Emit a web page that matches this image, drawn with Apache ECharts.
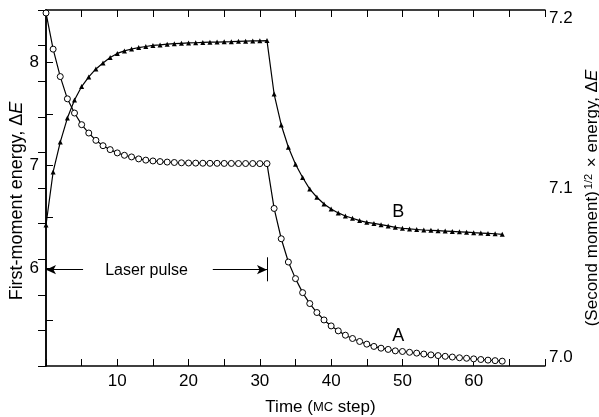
<!DOCTYPE html>
<html>
<head>
<meta charset="utf-8">
<script src="https://cdn.jsdelivr.net/npm/echarts@6/dist/echarts.min.js"></script>
<style>html,body{margin:0;padding:0;background:#fff;}#c{width:599px;height:417px;}</style>
</head>
<body>
<div id="c"></div>
<script>
const timeSteps = [0,1,2,3,4,5,6,7,8,9,10,11,12,13,14,15,16,17,18,19,20,21,22,23,24,25,26,27,28,29,30,31,32,33,34,35,36,37,38,39,40,41,42,43,44,45,46,47,48,49,50,51,52,53,54,55,56,57,58,59,60,61,62,63,64];
// Curve A: first-moment energy (left axis)
const seriesA = [8.481,8.130,7.864,7.648,7.510,7.397,7.316,7.245,7.193,7.155,7.123,7.100,7.084,7.065,7.053,7.045,7.039,7.034,7.030,7.027,7.025,7.024,7.023,7.022,7.022,7.021,7.021,7.020,7.020,7.020,7.019,7.019,
  6.584,6.290,6.064,5.903,5.767,5.661,5.574,5.502,5.444,5.396,5.354,5.322,5.293,5.267,5.245,5.228,5.216,5.202,5.196,5.188,5.180,5.171,5.163,5.156,5.149,5.142,5.135,5.130,5.124,5.118,5.112,5.107,5.102];
// Curve B: (second moment)^1/2 x energy (right axis)
const seriesB = [7.0792,7.1090,7.1258,7.1393,7.1494,7.1570,7.1624,7.1669,7.1702,7.1733,7.1756,7.1770,7.1781,7.1789,7.1795,7.1801,7.1804,7.1808,7.1811,7.1813,7.1815,7.1816,7.1818,7.1819,7.1820,7.1821,7.1822,7.1824,7.1825,7.1826,7.1827,7.1828,
  7.1528,7.1354,7.1229,7.1133,7.1059,7.0994,7.0948,7.0910,7.0882,7.0860,7.0843,7.0830,7.0817,7.0807,7.0801,7.0794,7.0787,7.0779,7.0774,7.0770,7.0767,7.0764,7.0762,7.0760,7.0758,7.0756,7.0754,7.0752,7.0749,7.0747,7.0745,7.0743,7.0740];
const xLabels = [10,20,30,40,50,60];
const leftTicks = [5.5,6,6.5,7,7.5,8];
const leftLabels = [6,7,8];
const rightTicks = [7.00,7.02,7.04,7.06,7.08,7.10,7.12,7.14,7.16,7.18,7.20];
const rightLabels = [7.0,7.1,7.2];
// Laser pulse annotation (time steps / left-axis energy)
const pulseStart = 0, pulseEnd = 31, pulseLevel = 5.99;
const pulseArrowLeftEnd = 5.2, pulseArrowRightStart = 23.4, pulseBarTop = 6.11, pulseBarBottom = 5.877;
const pulseTextPos = [14.1, 5.985];
const labelAPos = [49.4, 5.344];
const labelBPos = [49.4, 7.0865];

const FONT = 'Liberation Sans, Arial, sans-serif';
const dataA = timeSteps.map((t, i) => [t, seriesA[i]]);
const dataB = timeSteps.map((t, i) => [t, seriesB[i]]);

const axisLineStyle = { color: '#000', width: 1.5 };
const chart = echarts.init(document.getElementById('c'), null, { renderer: 'canvas' });
chart.setOption({
  animation: false,
  backgroundColor: '#fff',
  grid: { left: 46, right: 54, top: 10, bottom: 51, containLabel: false, outerBoundsMode: 'none' },
  xAxis: [{
    type: 'value', min: 0, max: 70, interval: 5, position: 'bottom',
    name: 'Time ({sc|MC} step)', nameLocation: 'middle', nameGap: 33,
    nameTextStyle: { fontFamily: FONT, fontSize: 17, color: '#000', padding: [0, 0, 0, 50],
      rich: { sc: { fontFamily: FONT, fontSize: 13, color: '#000' } } },
    axisLine: { show: true, lineStyle: axisLineStyle },
    axisTick: { show: true, inside: true, length: 7, lineStyle: { color: '#000', width: 1 } },
    axisLabel: { show: true, customValues: xLabels, margin: 7, fontFamily: FONT, fontSize: 17, color: '#000' },
    splitLine: { show: false }
  }, {
    type: 'value', min: 0, max: 70, interval: 5, position: 'top',
    axisLine: { show: true, lineStyle: axisLineStyle },
    axisTick: { show: true, inside: true, length: 7, lineStyle: { color: '#000', width: 1 } },
    axisLabel: { show: false },
    splitLine: { show: false }
  }],
  yAxis: [{
    type: 'value', min: 5.055, max: 8.51, position: 'left',
    name: 'First-moment energy, Δ{it|E}', nameLocation: 'middle', nameGap: 20, nameRotate: 90, nameMoveOverlap: false,
    nameTextStyle: { fontFamily: FONT, fontSize: 18, color: '#000', padding: [0, 26, 0, 0],
      rich: { it: { fontFamily: FONT, fontSize: 18, fontStyle: 'italic', color: '#000' } } },
    axisLine: { show: true, lineStyle: axisLineStyle },
    axisTick: { show: true, inside: true, length: 7, customValues: leftTicks, lineStyle: { color: '#000', width: 1 } },
    axisLabel: { show: true, customValues: leftLabels, margin: 7, fontFamily: FONT, fontSize: 17, color: '#000', formatter: v => String(Math.round(v)) },
    splitLine: { show: false }
  }, {
    type: 'value', min: 7.0, max: 7.2, position: 'right',
    name: '(Second moment){sup|1/2} × energy, Δ{it|E}', nameLocation: 'middle', nameGap: 38, nameRotate: 90,
    nameTextStyle: { fontFamily: FONT, fontSize: 17, color: '#000', padding: [0, 20, 0, 0], rich: {
      sup: { fontFamily: FONT, fontSize: 11, color: '#000', verticalAlign: 'top', padding: [0, 2, 6, 2] },
      it: { fontFamily: FONT, fontSize: 17, fontStyle: 'italic', color: '#000' } } },
    axisLine: { show: true, lineStyle: axisLineStyle },
    axisTick: { show: true, inside: true, length: 8, customValues: rightTicks, lineStyle: { color: '#000', width: 1 } },
    axisLabel: { show: true, customValues: rightLabels, margin: 4, fontFamily: FONT, fontSize: 17, color: '#000',
      formatter: v => v.toFixed(1), verticalAlignMinLabel: 'bottom', verticalAlignMaxLabel: 'top' },
    splitLine: { show: false }
  }],
  series: [{
    name: 'A', type: 'line', xAxisIndex: 0, yAxisIndex: 0, data: dataA,
    symbol: 'circle', symbolSize: 6, showAllSymbol: true,
    itemStyle: { color: '#fff', borderColor: '#000', borderWidth: 1 },
    lineStyle: { color: '#000', width: 1.2 },
    z: 3,
    markLine: {
      silent: true, animation: false,
      lineStyle: { color: '#000', width: 1, type: 'solid' },
      label: { show: false },
      symbolSize: [7, 10],
      data: [
        [{ coord: [pulseStart, pulseLevel], symbol: 'arrow' }, { coord: [pulseArrowLeftEnd, pulseLevel], symbol: 'none' }],
        [{ coord: [pulseArrowRightStart, pulseLevel], symbol: 'none' }, { coord: [pulseEnd, pulseLevel], symbol: 'arrow' }],
        [{ coord: [pulseEnd, pulseBarTop], symbol: 'none' }, { coord: [pulseEnd, pulseBarBottom], symbol: 'none' }]
      ]
    },
    markPoint: {
      silent: true, animation: false,
      symbol: 'circle', symbolSize: 0,
      data: [
        { coord: pulseTextPos, value: 'Laser pulse', label: { show: true, position: 'inside', formatter: 'Laser pulse', fontFamily: FONT, fontSize: 16, color: '#000' } },
        { coord: labelAPos, value: 'A', label: { show: true, position: 'inside', formatter: 'A', fontFamily: FONT, fontSize: 18, color: '#000' } }
      ]
    }
  }, {
    name: 'B', type: 'line', xAxisIndex: 0, yAxisIndex: 1, data: dataB,
    symbol: 'triangle', symbolSize: 5, showAllSymbol: true,
    itemStyle: { color: '#000' },
    lineStyle: { color: '#000', width: 1.2 },
    z: 3,
    markPoint: {
      silent: true, animation: false,
      symbol: 'circle', symbolSize: 0,
      data: [
        { coord: labelBPos, value: 'B', label: { show: true, position: 'inside', formatter: 'B', fontFamily: FONT, fontSize: 18, color: '#000' } }
      ]
    }
  }]
});
</script>
</body>
</html>
